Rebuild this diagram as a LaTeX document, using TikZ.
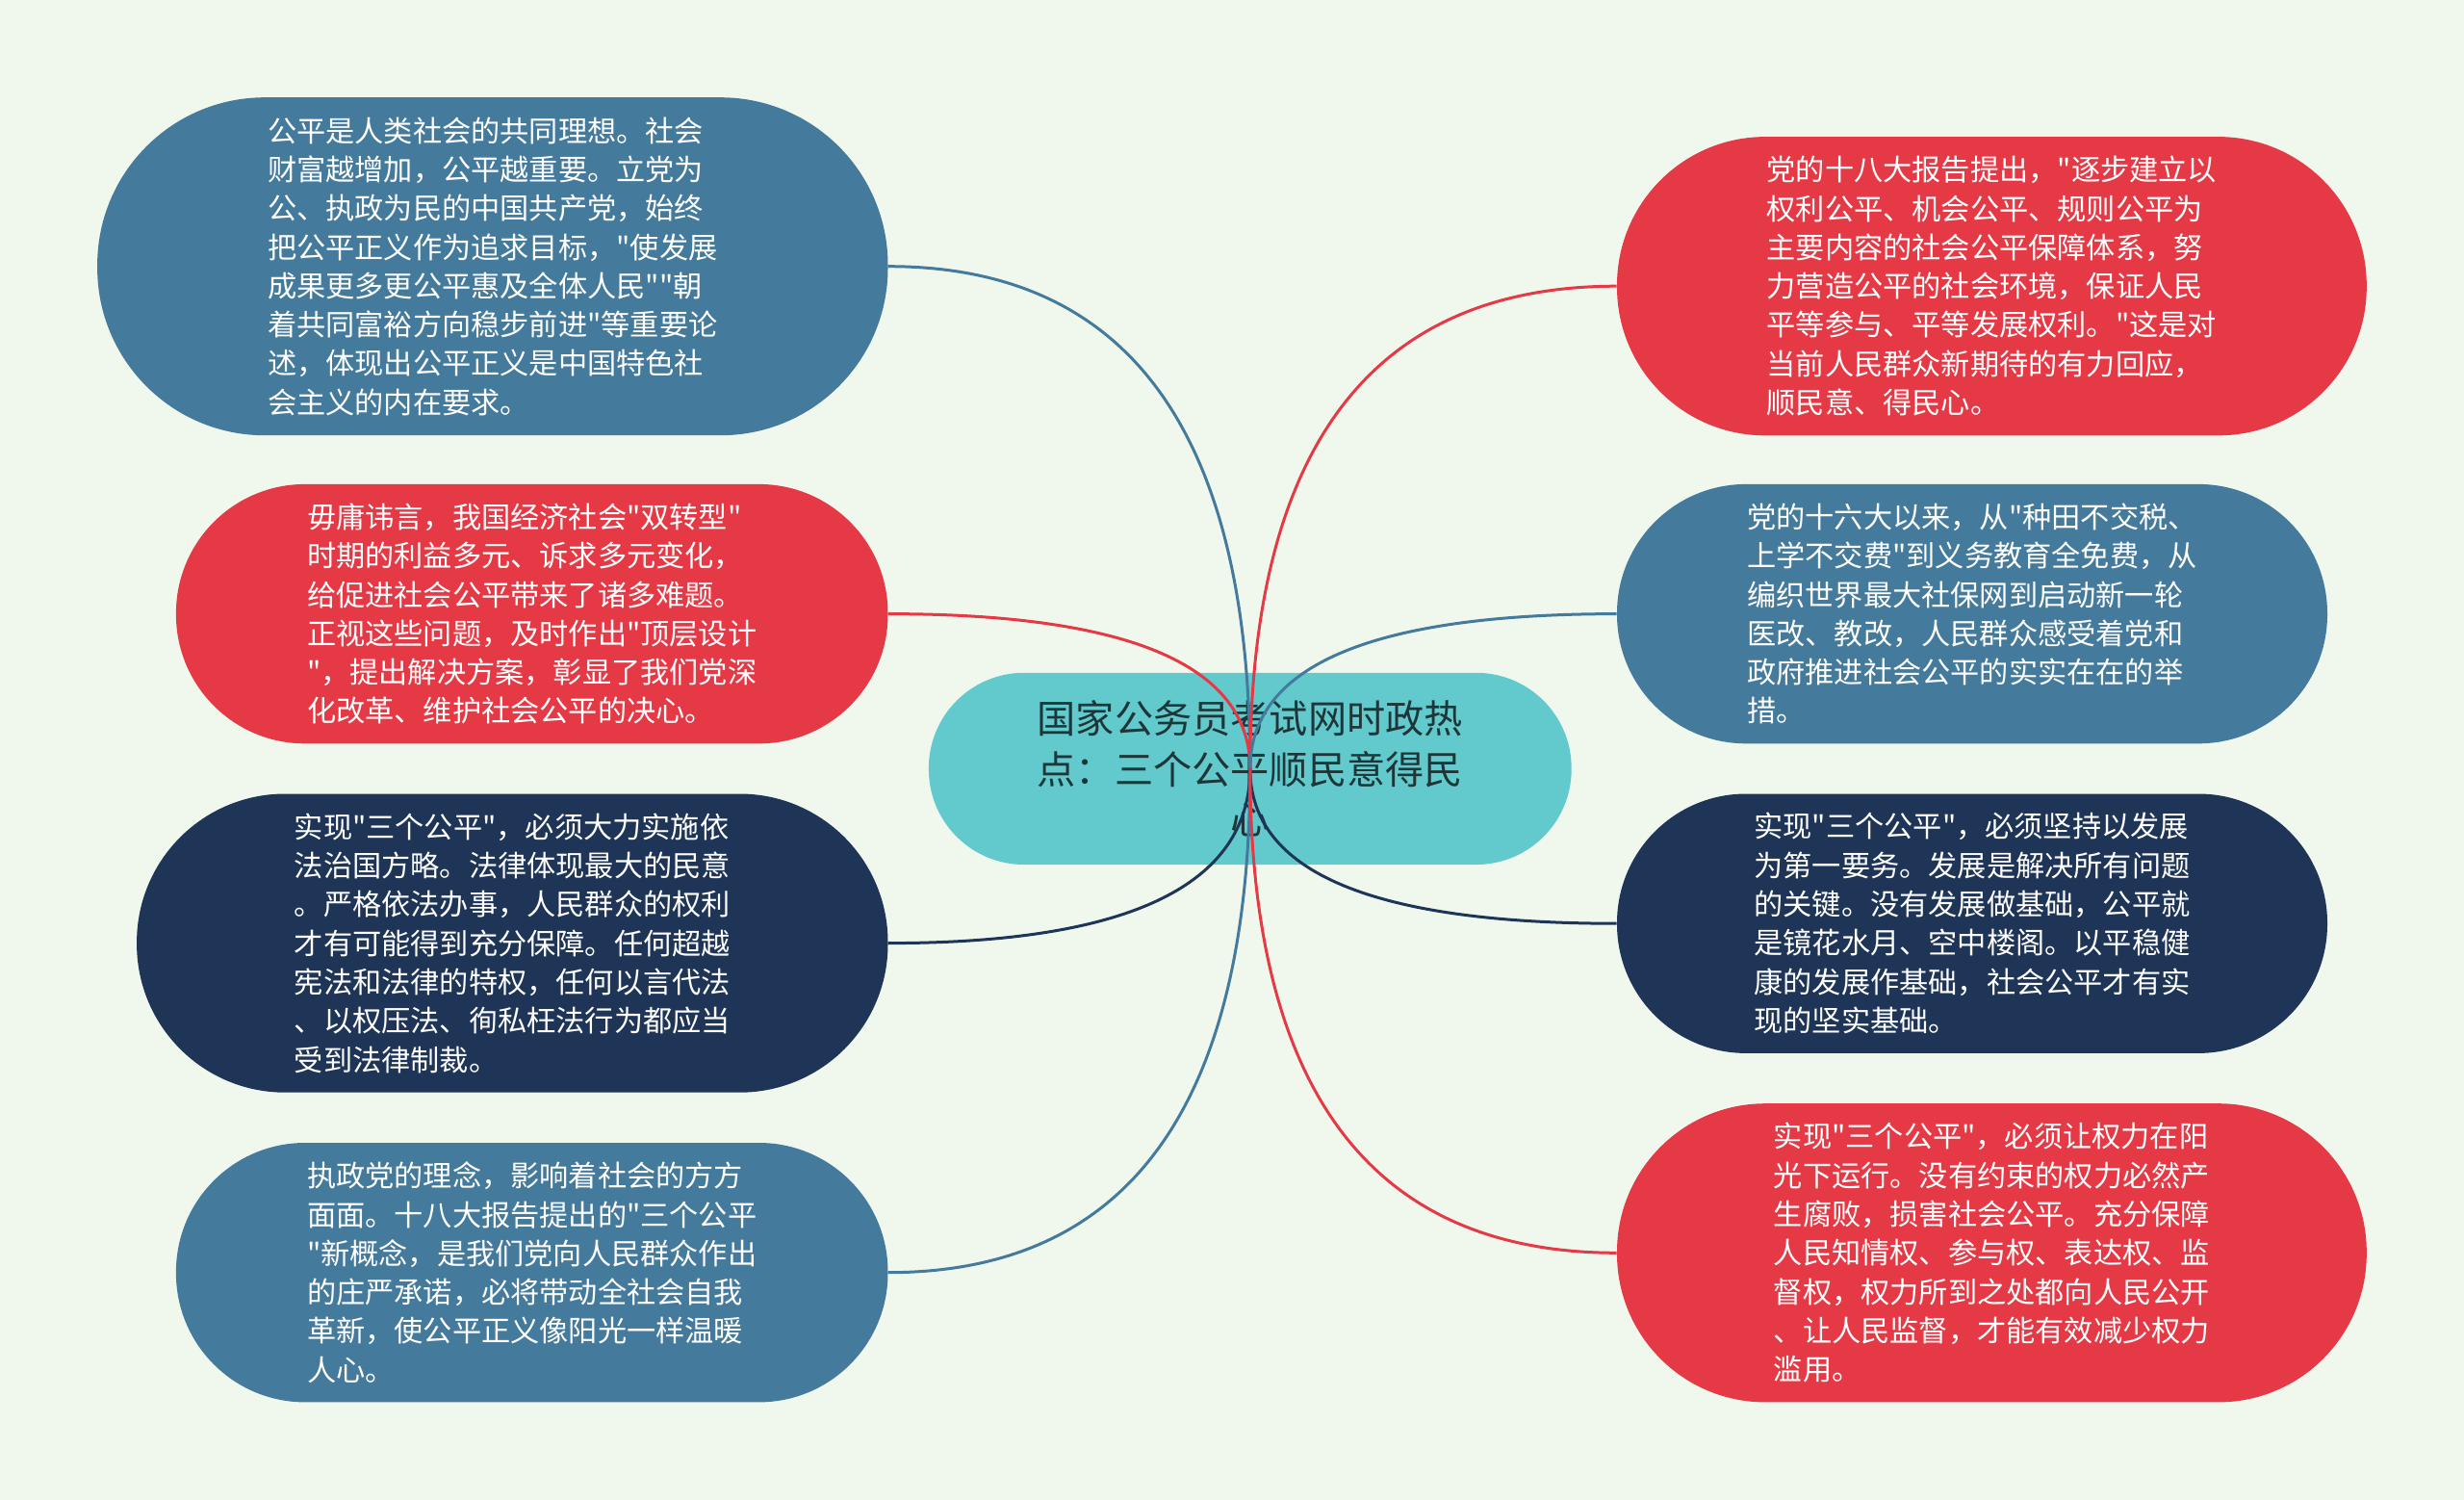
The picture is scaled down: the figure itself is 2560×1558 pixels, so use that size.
\documentclass[tikz,border=0pt]{standalone}
\usepackage{fontspec}
\newfontfamily\cjk{Noto Sans CJK SC}
\usetikzlibrary{calc}

\definecolor{bgmint}{HTML}{F0F8EE}
\definecolor{topicblue}{HTML}{447A9C}
\definecolor{topicred}{HTML}{E63946}
\definecolor{topicnavy}{HTML}{1E3557}
\definecolor{hubteal}{HTML}{62C9CC}
\definecolor{hubtext}{HTML}{1E3638}

\begin{document}
\begin{tikzpicture}
    [
        x=0.5pt, y=-0.5pt,
        leaf/.style = {
                rectangle,
                text=white,
                inner sep=0pt,
                align=left,
                minimum width=369.8pt,
                font=\cjk\fontsize{15.1pt}{20.15pt}\selectfont
            },
        lines6/.style = {minimum height=134.7pt, rounded corners=67pt},
        lines7/.style = {minimum height=155.1pt, rounded corners=77pt},
        lines8/.style = {minimum height=175.5pt, rounded corners=87pt},
        hubbox/.style = {
                rectangle,
                fill=hubteal,
                text=hubtext,
                inner sep=0pt,
                align=center,
                minimum width=333.9pt,
                minimum height=99.6pt,
                rounded corners=49.5pt,
                font=\cjk\fontsize{20.1pt}{26.1pt}\selectfont
            },
        link/.style = {line width=1.5pt},
    ]

    % background
    \fill[bgmint] (0,0) rectangle (2560,1558);

    % left side
    \node[leaf, lines8, fill=topicblue, minimum width=410.7pt] (fair) at (511.8,276.7)
        {公平是人类社会的共同理想。社会\\财富越增加，公平越重要。立党为\\公、执政为民的中国共产党，始终\\把公平正义作为追求目标，"使发展\\成果更多更公平惠及全体人民""朝\\着共同富裕方向稳步前进"等重要论\\述，体现出公平正义是中国特色社\\会主义的内在要求。};
    \node[leaf, lines6, fill=topicred] (transition) at (552.7,637.6)
        {毋庸讳言，我国经济社会"双转型"\\时期的利益多元、诉求多元变化，\\给促进社会公平带来了诸多难题。\\正视这些问题，及时作出"顶层设计\\"，提出解决方案，彰显了我们党深\\化改革、维护社会公平的决心。};
    \node[leaf, lines7, fill=topicnavy, minimum width=390.2pt] (lawrule) at (532.3,979.6)
        {实现"三个公平"，必须大力实施依\\法治国方略。法律体现最大的民意\\。严格依法办事，人民群众的权利\\才有可能得到充分保障。任何超越\\宪法和法律的特权，任何以言代法\\、以权压法、徇私枉法行为都应当\\受到法律制裁。};
    \node[leaf, lines6, fill=topicblue] (ruling) at (552.7,1321.7)
        {执政党的理念，影响着社会的方方\\面面。十八大报告提出的"三个公平\\"新概念，是我们党向人民群众作出\\的庄严承诺，必将带动全社会自我\\革新，使公平正义像阳光一样温暖\\人心。};

    % right side
    \node[leaf, lines7, fill=topicred, minimum width=389.4pt] (report) at (2069.4,297.2)
        {党的十八大报告提出，"逐步建立以\\权利公平、机会公平、规则公平为\\主要内容的社会公平保障体系，努\\力营造公平的社会环境，保证人民\\平等参与、平等发展权利。"这是对\\当前人民群众新期待的有力回应，\\顺民意、得民心。};
    \node[leaf, lines6, fill=topicblue, minimum width=369pt] (sixteen) at (2049,637.6)
        {党的十六大以来，从"种田不交税、\\上学不交费"到义务教育全免费，从\\编织世界最大社保网到启动新一轮\\医改、教改，人民群众感受着党和\\政府推进社会公平的实实在在的举\\措。};
    \node[leaf, lines6, fill=topicnavy, minimum width=369pt] (develop) at (2049,959.2)
        {实现"三个公平"，必须坚持以发展\\为第一要务。发展是解决所有问题\\的关键。没有发展做基础，公平就\\是镜花水月、空中楼阁。以平稳健\\康的发展作基础，社会公平才有实\\现的坚实基础。};
    \node[leaf, lines7, fill=topicred, minimum width=389.4pt] (power) at (2069.4,1301.3)
        {实现"三个公平"，必须让权力在阳\\光下运行。没有约束的权力必然产\\生腐败，损害社会公平。充分保障\\人民知情权、参与权、表达权、监\\督权，权力所到之处都向人民公开\\、让人民监督，才能有效减少权力\\滥用。};

    % centre topic
    \node[hubbox] (hub) at (1298.8,798.4)
        {国家公务员考试网时政热\\点：三个公平顺民意得民\\心};

    \foreach \leaf/\col in {fair.east/topicblue, transition.east/topicred,
            lawrule.east/topicnavy, ruling.east/topicblue,
            report.west/topicred, sixteen.west/topicblue,
            develop.west/topicnavy, power.west/topicred}
        \draw[link, \col] (hub.center)
            .. controls ($(hub.center)!0.667!(hub.center |- \leaf)$)
            and ($(\leaf)!0.667!(hub.center |- \leaf)$) .. (\leaf);

\end{tikzpicture}
\end{document}
